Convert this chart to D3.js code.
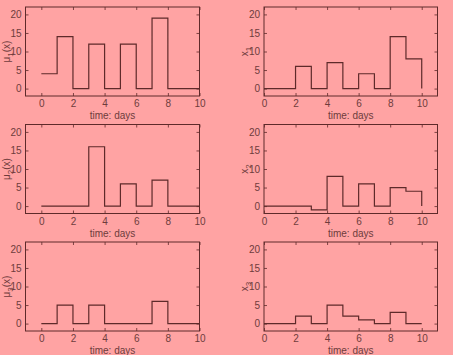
<!DOCTYPE html>
<html>
<head>
<meta charset="utf-8">
<script src="https://cdn.jsdelivr.net/npm/d3@7"></script>
<style>
  html, body { margin: 0; padding: 0; background: #ffa3a3; }
  svg { display: block; }
  text { font-family: "Liberation Sans", Arial, sans-serif; fill: #6e3c3c; }
</style>
</head>
<body>
<svg id="chart" width="453" height="355"></svg>
<script>
// step values at t = 0..10 (stairs)
const days = [0, 1, 2, 3, 4, 5, 6, 7, 8, 9, 10]
const mu1 = [4, 14, 0, 12, 0, 12, 0, 19, 0, 0, 0]
const mu2 = [0, 0, 0, 16, 0, 6, 0, 7, 0, 0, 0]
const mu3 = [0, 5, 0, 5, 0, 0, 0, 6, 0, 0, 0]
const x1 = [0, 0, 6, 0, 7, 0, 4, 0, 14, 8, 0]
const x2 = [0, 0, 0, -1, 8, 0, 6, 0, 5, 4, 0]
const x3 = [0, 0, 2, 0, 5, 2, 1, 0, 3, 0, 0]

const xTicks = [0, 2, 4, 6, 8, 10]
const yTicks = [0, 5, 10, 15, 20]

const lineColor = "#5e2a2a"
const svg = d3.select("#chart")

const rows = [7, 124.5, 242]
const boxH = 89
const cols = [
  {left: 25.5, right: 199.5, domain: [-1, 10], labelX: 10, name: "\u03bc", suffix: "(x)"},
  {left: 264, right: 437.5, domain: [0, 11], labelX: 248, name: "x", suffix: ""}
]
const series = [[mu1, x1], [mu2, x2], [mu3, x3]]

series.forEach((pair, r) => {
  pair.forEach((vals, c) => {
    const col = cols[c]
    const top = rows[r]
    const x = d3.scaleLinear().domain(col.domain).range([col.left, col.right])
    const y = d3.scaleLinear().domain([-2, 22]).range([top + boxH, top])
    const g = svg.append("g")

    const axStyle = (sel) => {
      sel.select(".domain").remove()
      sel.selectAll(".tick line").attr("stroke", lineColor).attr("stroke-width", 0.8)
      sel.selectAll(".tick text").attr("font-size", 10).style("fill", "#6e3c3c")
    }

    g.append("g")
      .attr("transform", `translate(0,${top + boxH})`)
      .call(d3.axisBottom(x).tickValues(xTicks).tickSize(-3).tickPadding(4))
      .call(axStyle)
    g.append("g")
      .attr("transform", `translate(0,${top})`)
      .call(d3.axisTop(x).tickValues(xTicks).tickSize(-3).tickFormat(""))
      .call(axStyle)
    g.append("g")
      .attr("transform", `translate(${col.left},0)`)
      .call(d3.axisLeft(y).tickValues(yTicks).tickSize(-3).tickPadding(4))
      .call(axStyle)
    g.append("g")
      .attr("transform", `translate(${col.right},0)`)
      .call(d3.axisRight(y).tickValues(yTicks).tickSize(-3).tickFormat(""))
      .call(axStyle)

    g.append("rect")
      .attr("x", col.left).attr("y", top)
      .attr("width", col.right - col.left).attr("height", boxH)
      .attr("fill", "none").attr("stroke", lineColor).attr("stroke-width", 1)

    const line = d3.line()
      .x((d, i) => x(days[i]))
      .y((d) => y(d))
      .curve(d3.curveStepAfter)
    g.append("path")
      .datum(vals)
      .attr("d", line)
      .attr("fill", "none")
      .attr("stroke", lineColor)
      .attr("stroke-width", 1.2)

    g.append("text")
      .attr("x", (col.left + col.right) / 2)
      .attr("y", top + boxH + 23)
      .attr("text-anchor", "middle")
      .attr("font-size", 10)
      .text("time: days")

    const lab = g.append("text")
      .attr("transform", `translate(${col.labelX},${top + boxH / 2}) rotate(-90)`)
      .attr("text-anchor", "middle")
      .attr("font-size", 10)
    lab.append("tspan").text(col.name)
    lab.append("tspan").attr("font-size", 8).attr("dy", 3).text(r + 1)
    if (col.suffix) lab.append("tspan").attr("dy", -3).text(col.suffix)
  })
})
</script>
</body>
</html>
